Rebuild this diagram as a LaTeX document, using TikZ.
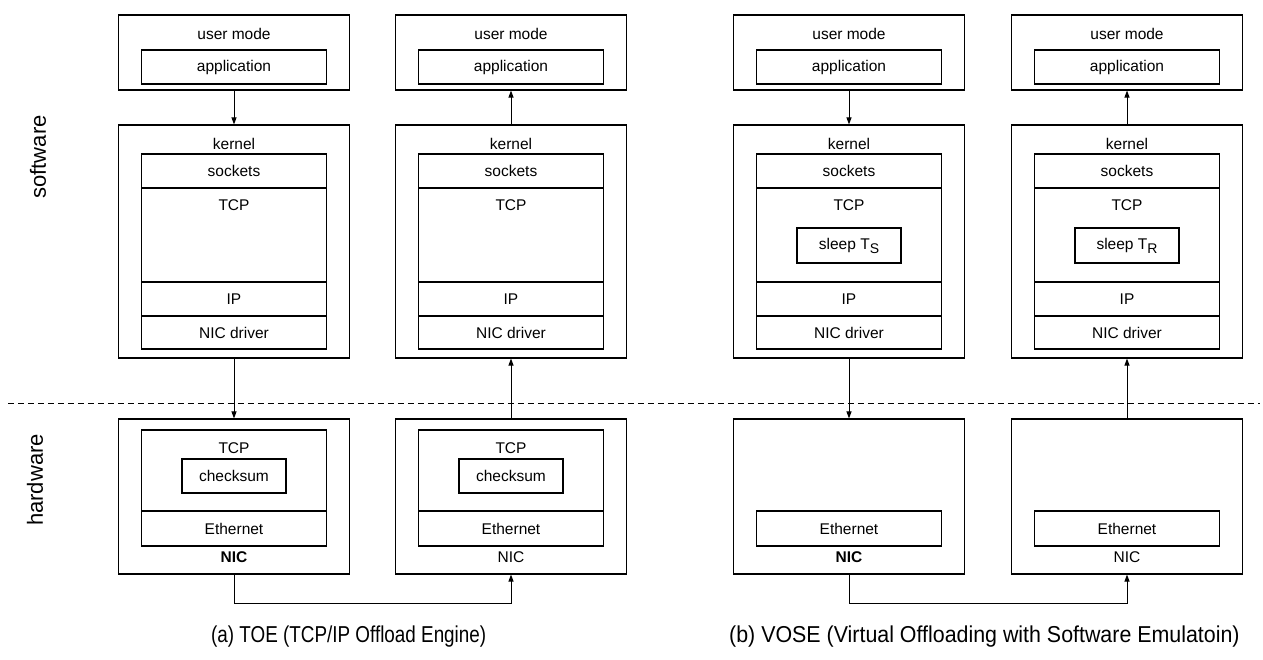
\documentclass[tikz,border=0pt]{standalone}
\usepackage{fontspec}
\setmainfont{Liberation Sans}
\newfontfamily\capnarrow[FakeStretch=0.82]{Liberation Sans}
\newfontfamily\capwide[FakeStretch=0.93]{Liberation Sans}
\usetikzlibrary{arrows.meta}
\tikzset{
  box/.style={draw, line width=1.1pt, inner sep=0pt, minimum width=231pt},
  layer/.style={draw, line width=1.1pt, inner sep=0pt, minimum width=185pt, font=\fontsize{15.5}{18}\selectfont},
  inbox/.style={draw, line width=1.1pt, inner sep=0pt, minimum width=104pt, minimum height=34pt, font=\fontsize{15.5}{18}\selectfont},
  lab/.style={inner sep=0pt, font=\fontsize{15.5}{18}\selectfont},
  flow/.style={line width=1pt, -{Triangle[length=7pt,width=5pt]}},
  guide/.style={line width=0.9pt, dash pattern=on 6pt off 4pt},
  side/.style={inner sep=0pt, rotate=90, font=\fontsize{22}{24}\selectfont},
  caption/.style={inner sep=0pt, anchor=west},
}
\newcommand{\subT}[1]{T\raisebox{-4pt}{\fontsize{14}{14}\selectfont #1}}

\begin{document}
\begin{tikzpicture}[x=1pt,y=-1pt]
  \useasboundingbox (0,0) rectangle (1263,660);

  % software stack, same in every column
  \foreach \i/\cx in {1/234,2/511,3/849,4/1127}{
    \node[box, minimum height=75pt] (user\i) at (\cx,52.5) {};
    \node[lab] (userlab\i) at (\cx,34) {user mode};
    \node[layer, minimum height=34pt] (app\i) at (\cx,67) {application};
    \node[box, minimum height=233pt] (kern\i) at (\cx,241.5) {};
    \node[lab] (kernlab\i) at (\cx,144) {kernel};
    \node[layer, minimum height=34pt] (sock\i) at (\cx,171) {sockets};
    \node[layer, minimum height=94pt] (tcp\i) at (\cx,235) {};
    \node[lab] (tcplab\i) at (\cx,205) {TCP};
    \node[layer, minimum height=34pt] (ip\i) at (\cx,299) {IP};
    \node[layer, minimum height=33pt] (drv\i) at (\cx,332.5) {NIC driver};
    \node[box, minimum height=155pt] (nic\i) at (\cx,496.5) {};
    \node[layer, minimum height=35pt] (eth\i) at (\cx,528.5) {Ethernet};
  }

  % sleep in the emulated TCP
  \node[inbox, minimum height=35pt] (sleepS) at (849,245.5) {sleep \subT{S}};
  \node[inbox, minimum height=35pt] (sleepR) at (1127,245.5) {sleep \subT{R}};

  % offloaded TCP on the NIC
  \node[layer, minimum height=81pt] (hwtcp1) at (234,470.5) {};
  \node[lab] (hwtcplab1) at (234,448) {TCP};
  \node[inbox] (csum1) at (234,476) {checksum};
  \node[layer, minimum height=81pt] (hwtcp2) at (511,470.5) {};
  \node[lab] (hwtcplab2) at (511,448) {TCP};
  \node[inbox] (csum2) at (511,476) {checksum};

  \node[lab, font=\fontsize{15.5}{18}\selectfont\bfseries] (niclab1) at (234,557) {NIC};
  \node[lab] (niclab2) at (511,557) {NIC};
  \node[lab, font=\fontsize{15.5}{18}\selectfont\bfseries] (niclab3) at (849,557) {NIC};
  \node[lab] (niclab4) at (1127,557) {NIC};

  % sender goes down, receiver goes up
  \draw[flow] (user1.south) -- (kern1.north);
  \draw[flow] (kern1.south) -- (nic1.north);
  \draw[flow] (kern2.north) -- (user2.south);
  \draw[flow] (nic2.north) -- (kern2.south);
  \draw[flow] (user3.south) -- (kern3.north);
  \draw[flow] (kern3.south) -- (nic3.north);
  \draw[flow] (kern4.north) -- (user4.south);
  \draw[flow] (nic4.north) -- (kern4.south);
  \draw[flow] (nic1.south) -- ++(0,29) -| (nic2.south);
  \draw[flow] (nic3.south) -- ++(0,29) -| (nic4.south);

  % software / hardware border
  \coordinate (cutL) at (8,403);
  \coordinate (cutR) at (1260,403);
  \draw[guide] (cutL) -- (cutR);
  \node[side] (sw) at (38,157) {software};
  \node[side] (hw) at (35,480) {hardware};

  \node[caption, font=\fontsize{23}{25}\capnarrow] (capA) at (211,637) {(a) TOE (TCP/IP Offload Engine)};
  \node[caption, font=\fontsize{23}{25}\capwide] (capB) at (729,637) {(b) VOSE (Virtual Offloading with Software Emulatoin)};
\end{tikzpicture}
\end{document}
